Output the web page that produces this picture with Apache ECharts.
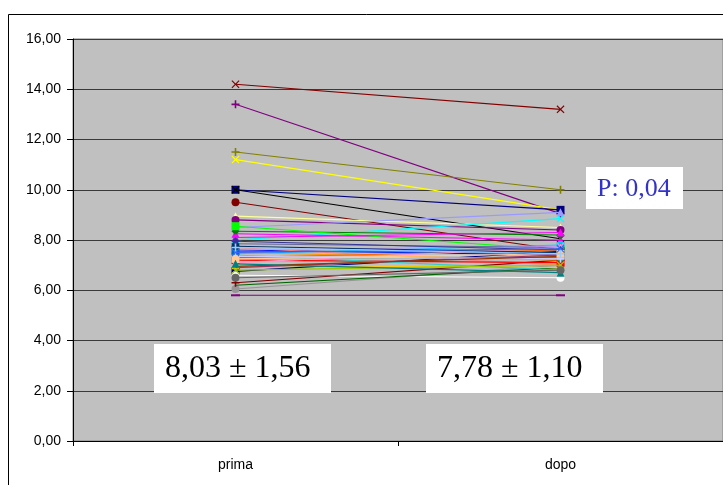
<!DOCTYPE html>
<html>
<head>
<meta charset="utf-8">
<script src="https://cdn.jsdelivr.net/npm/echarts@6/dist/echarts.min.js"></script>
<style>html,body{margin:0;padding:0;background:#fff}#c{width:723px;height:485px}</style>
</head>
<body>
<div id="c"></div>
<script>
var categories = ['prima', 'dopo'];
var yTicks = [0, 2, 4, 6, 8, 10, 12, 14, 16];
var primaValues = [14.2, 13.4, 11.5, 11.2, 10.0, 10.0, 9.5, 8.95, 8.8, 8.5, 8.0, 8.25, 6.75, 6.6, 5.8, 6.05, 6.3, 6.2,
  8.35, 8.55, 8.1, 7.6, 7.45, 7.7, 7.5, 7.3, 7.2, 7.0, 7.6, 7.3, 7.85, 6.9, 7.4, 7.55, 7.1, 6.8, 7.75, 7.35, 6.95, 7.95, 7.25, 7.05, 7.5, 6.5, 7.7];
var dopoValues = [13.2, 9.05, 10.0, 9.2, 9.2, 8.05, 7.6, 8.5, 8.4, 9.1, 8.85, 8.0, 7.55, 6.5, 5.8, 7.0, 7.2, 6.9,
  8.2, 7.6, 8.3, 7.4, 7.8, 7.0, 7.2, 7.6, 7.1, 6.9, 7.75, 7.3, 7.7, 7.4, 6.8, 7.5, 7.7, 7.0, 7.5, 7.25, 7.35, 7.6, 7.45, 6.7, 7.65, 6.8, 7.45];
var statsPrima = '8,03 ± 1,56';
var statsDopo = '7,78 ± 1,10';
var pText = 'P: 0,04';

var colors = ['#800000', '#800080', '#808000', '#FFFF00', '#000080', '#000000', '#800000', '#FFFF99', '#800080', '#9999FF', '#00FFFF', '#FF00FF', '#000080', '#FFFFFF', '#800080', '#969696', '#800000', '#006600',
  '#008000', '#00FF00', '#FF00FF', '#0000FF', '#00CCFF', '#FF8080', '#FF9900', '#FF6600', '#FF0000', '#FFCC00', '#CC99FF', '#339966', '#666699', '#993366', '#33CCCC', '#0066CC', '#FF99CC', '#99CC00', '#003366', '#CCCCFF', '#993300', '#333399', '#FFCC99', '#008080', '#3366FF', '#666666', '#99CCFF'];
var SX = 'path://M0,1L1,0L5,4L9,0L10,1L6,5L10,9L9,10L5,6L1,10L0,9L4,5Z';
var SP = 'path://M4,0H6V4H10V6H6V10H4V6H0V4H4Z';
var SD = 'path://M0,4H10V6H0Z';
var symbols = [SX, SP, SP, SX, 'rect', SX, 'circle', 'triangle', 'circle', 'triangle', SX, 'triangle', 'rect', 'circle', SD, 'circle', SP, 'none',
  'diamond', 'rect', 'triangle', SX, 'circle', SP, 'none', 'diamond', 'rect', 'triangle', SX, 'circle', SP, 'none', 'diamond', 'rect', 'triangle', SX, 'circle', SP, 'none', 'diamond', 'rect', 'triangle', SX, 'circle', SP];

var series = primaValues.map(function (p, i) {
  var isDash = symbols[i] === SD;
  return {
    type: 'line',
    data: [p, dopoValues[i]],
    symbol: symbols[i],
    symbolSize: isDash ? [9, 2] : 8,
    showSymbol: symbols[i] !== 'none',
    animation: false,
    lineStyle: { color: colors[i], width: 1.1 },
    itemStyle: { color: colors[i] },
    z: 2 + i
  };
});

var chart = echarts.init(document.getElementById('c'));
var serif = '"Liberation Serif", "Times New Roman", serif';
chart.setOption({
  animation: false,
  backgroundColor: '#fff',
  grid: { left: 73, right: -2, top: 39, bottom: 44, show: true, backgroundColor: '#C0C0C0', borderColor: '#808080', borderWidth: 1 },
  xAxis: {
    type: 'category', data: categories, boundaryGap: true,
    axisLine: { lineStyle: { color: '#000', width: 1 } },
    axisTick: { show: true, length: 5, lineStyle: { color: '#000' } },
    axisLabel: { color: '#000', fontFamily: '"Liberation Sans", Arial, sans-serif', fontSize: 14, margin: 17 },
    splitLine: { show: false }
  },
  yAxis: {
    type: 'value', min: yTicks[0], max: yTicks[yTicks.length - 1], interval: 2,
    axisLine: { show: true, lineStyle: { color: '#000', width: 1 } },
    axisTick: { show: true, length: 6, lineStyle: { color: '#000' } },
    axisLabel: { color: '#000', fontFamily: '"Liberation Sans", Arial, sans-serif', fontSize: 14, margin: 12,
      formatter: function (v) { return v.toFixed(2).replace('.', ','); } },
    splitLine: { show: true, lineStyle: { color: '#3a3a3a', width: 1 } }
  },
  series: series,
  graphic: [
    { type: 'rect', shape: { x: 8.5, y: 14.5, width: 800, height: 600 }, style: { fill: 'none', stroke: '#000', lineWidth: 1 }, z: 200 },
    { type: 'rect', shape: { x: 154, y: 344, width: 177, height: 49 }, style: { fill: '#fff' }, z: 300 },
    { type: 'text', x: 165, y: 369, style: { text: statsPrima, font: '32px ' + serif, fill: '#000', textVerticalAlign: 'middle' }, z: 301 },
    { type: 'rect', shape: { x: 426, y: 344, width: 177, height: 49 }, style: { fill: '#fff' }, z: 300 },
    { type: 'rect', shape: { x: 586, y: 167, width: 97, height: 42 }, style: { fill: '#fff' }, z: 300 },
    { type: 'text', x: 437, y: 369, style: { text: statsDopo, font: '32px ' + serif, fill: '#000', textVerticalAlign: 'middle' }, z: 301 },
    { type: 'text', x: 597, y: 189, style: { text: pText, font: '26px ' + serif, fill: '#3333CC', textVerticalAlign: 'middle' }, z: 301 }
  ]
});
</script>
</body>
</html>
